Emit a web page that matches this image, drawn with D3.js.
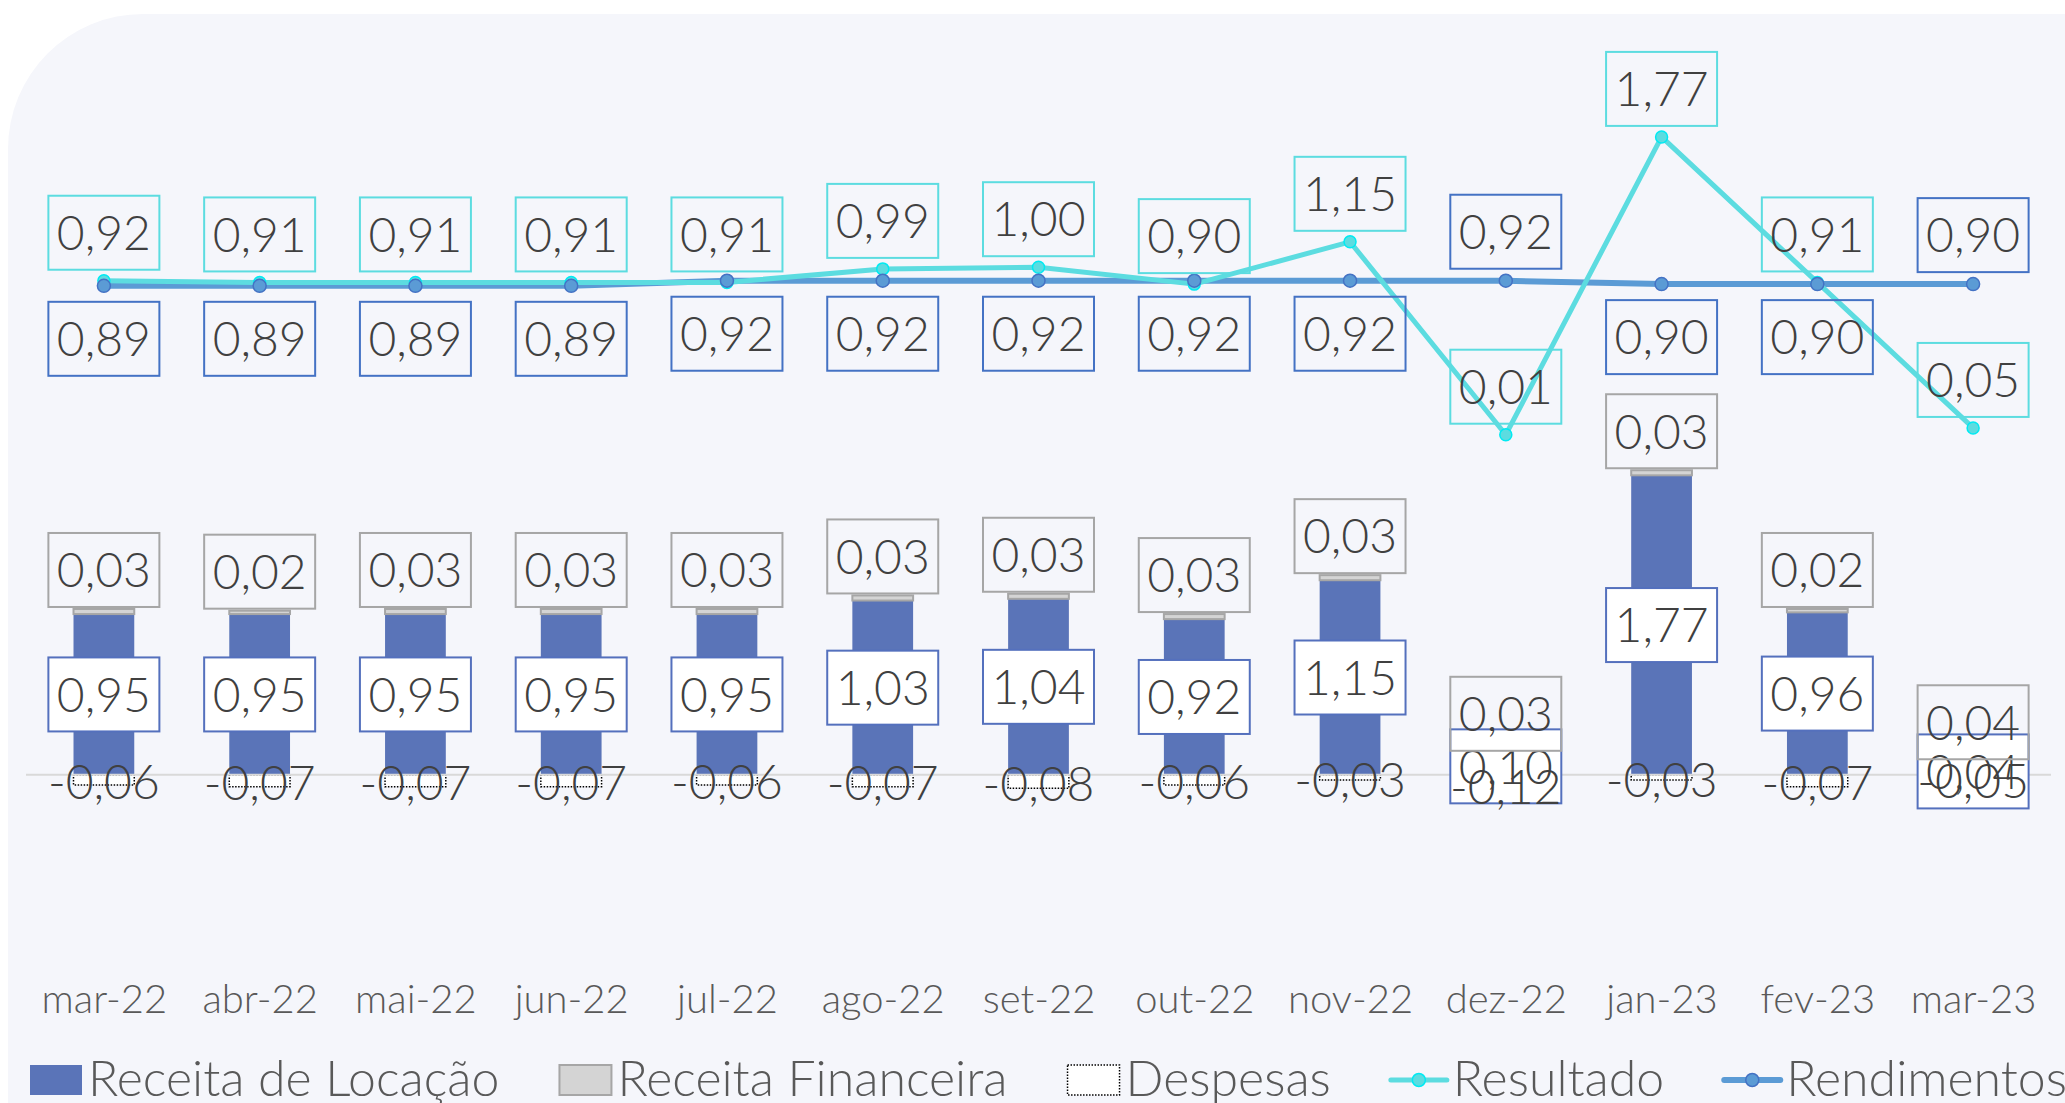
<!DOCTYPE html>
<html>
<head>
<meta charset="utf-8">
<script src="https://cdn.jsdelivr.net/npm/d3@7"></script>
<style>
  body { margin: 0; background: #fff; }
  svg { display: block; font-family: Lato, "Open Sans", sans-serif; font-weight: 300; }
</style>
</head>
<body>
<div id="chart"></div>
<script>
// Monthly values.
var months = ["mar-22", "abr-22", "mai-22", "jun-22", "jul-22", "ago-22", "set-22",
              "out-22", "nov-22", "dez-22", "jan-23", "fev-23", "mar-23"];

var receitaLocacao    = [0.95, 0.95, 0.95, 0.95, 0.95, 1.03, 1.04, 0.92, 1.15, 0.10, 1.77, 0.96, 0.04];
var receitaFinanceira = [0.03, 0.02, 0.03, 0.03, 0.03, 0.03, 0.03, 0.03, 0.03, 0.03, 0.03, 0.02, 0.04];
var despesas          = [-0.06, -0.07, -0.07, -0.07, -0.06, -0.07, -0.08, -0.06, -0.03, -0.12, -0.03, -0.07, -0.05];
var resultado         = [0.92, 0.91, 0.91, 0.91, 0.91, 0.99, 1.00, 0.90, 1.15, 0.01, 1.77, 0.91, 0.05];
var rendimentos       = [0.89, 0.89, 0.89, 0.89, 0.92, 0.92, 0.92, 0.92, 0.92, 0.92, 0.90, 0.90, 0.90];

// Months where the Rendimentos label sits above its point.
var rendLabelAbove = ["dez-22", "mar-23"];

var legendNames = ["Receita de Locação", "Receita Financeira", "Despesas", "Resultado", "Rendimentos"];

var width = 2065;
var height = 1103;

var colors = {
  bg: "#f5f6fb",
  locacao: "#5a74b8",
  financeira: "#d4d4d4",
  financeiraStroke: "#a6a6a6",
  resultado: "#5cdce0",
  resultadoMarker: "#00eaf2",
  rendimentos: "#5b9bd5",
  rendimentosMarker: "#4472c4",
  text: "#404040",
  axisText: "#595959"
};

var locale = d3.formatLocale({ decimal: ",", thousands: ".", grouping: [3], currency: ["R$", ""], minus: "-" });
var fmt = locale.format(".2f");

var svg = d3.select("#chart")
  .append("svg")
    .attr("width", width)
    .attr("height", height);

// Card background, only its top-left corner shows.
svg.append("rect")
  .attr("x", 8)
  .attr("y", 14)
  .attr("width", 2300)
  .attr("height", 1300)
  .attr("rx", 135)
  .style("fill", colors.bg);

var x = d3.scalePoint()
  .domain(months)
  .range([26, 2051])
  .padding(0.5);

var barWidth = x.step() * 0.39;

// Bars on the primary axis, lines on the secondary one.
var y = d3.scaleLinear().domain([-1, 4]).range([944, 98]);
var y2 = d3.scaleLinear().domain([-3, 2]).range([944, 98]);

var rows = months.map(function (m, i) {
  return {
    month: m,
    locacao: receitaLocacao[i],
    financeira: receitaFinanceira[i],
    despesas: despesas[i],
    resultado: resultado[i],
    rendimentos: rendimentos[i]
  };
});

// Bars
var bars = svg.append("g").attr("class", "bars");

bars.selectAll("rect.locacao")
  .data(rows)
  .enter().append("rect")
    .attr("class", "locacao")
    .attr("x", function (d) { return x(d.month) - barWidth / 2; })
    .attr("y", function (d) { return y(d.locacao); })
    .attr("width", barWidth)
    .attr("height", function (d) { return y(0) - y(d.locacao); })
    .style("fill", colors.locacao);

bars.selectAll("rect.financeira")
  .data(rows)
  .enter().append("rect")
    .attr("class", "financeira")
    .attr("x", function (d) { return x(d.month) - barWidth / 2; })
    .attr("y", function (d) { return y(d.locacao + d.financeira); })
    .attr("width", barWidth)
    .attr("height", function (d) { return y(d.locacao) - y(d.locacao + d.financeira); })
    .style("fill", colors.financeira)
    .style("stroke", colors.financeiraStroke)
    .style("stroke-width", 2);

bars.selectAll("rect.despesas")
  .data(rows)
  .enter().append("rect")
    .attr("class", "despesas")
    .attr("x", function (d) { return x(d.month) - barWidth / 2; })
    .attr("y", y(0))
    .attr("width", barWidth)
    .attr("height", function (d) { return y(d.despesas) - y(0); })
    .style("fill", "#fff")
    .style("stroke", "#000")
    .style("stroke-width", 1.5)
    .style("stroke-dasharray", "1.5,1.5");

// Category axis line at zero
svg.append("line")
  .attr("x1", x.range()[0])
  .attr("x2", x.range()[1])
  .attr("y1", y(0))
  .attr("y2", y(0))
  .style("stroke", "#d9d9d9")
  .style("stroke-width", 2);

var xAxis = svg.append("g")
  .attr("transform", "translate(0, 1013)")
  .call(d3.axisBottom(x).tickSize(0).tickPadding(0));
xAxis.select(".domain").remove();
xAxis.selectAll("text")
  .attr("dy", 0)
  .style("font-family", "Lato, sans-serif")
  .style("font-weight", 300)
  .style("font-size", "40px")
  .style("fill", colors.axisText);

// Lines
var lineRes = d3.line()
  .x(function (d) { return x(d.month); })
  .y(function (d) { return y2(d.resultado); });

var lineRend = d3.line()
  .x(function (d) { return x(d.month); })
  .y(function (d) { return y2(d.rendimentos); });

svg.append("path")
  .datum(rows)
  .attr("d", lineRend)
  .style("fill", "none")
  .style("stroke", colors.rendimentos)
  .style("stroke-width", 6)
  .style("stroke-linejoin", "round");

svg.append("path")
  .datum(rows)
  .attr("d", lineRes)
  .style("fill", "none")
  .style("stroke", colors.resultado)
  .style("stroke-width", 5)
  .style("stroke-linejoin", "round");

svg.selectAll("circle.res")
  .data(rows)
  .enter().append("circle")
    .attr("class", "res")
    .attr("cx", function (d) { return x(d.month); })
    .attr("cy", function (d) { return y2(d.resultado); })
    .attr("r", 6)
    .style("fill", colors.resultado)
    .style("stroke", colors.resultadoMarker)
    .style("stroke-width", 1.5);

svg.selectAll("circle.rend")
  .data(rows)
  .enter().append("circle")
    .attr("class", "rend")
    .attr("cx", function (d) { return x(d.month); })
    .attr("cy", function (d) { return y2(d.rendimentos); })
    .attr("r", 6.5)
    .style("fill", colors.rendimentos)
    .style("stroke", colors.rendimentosMarker)
    .style("stroke-width", 1.5);

// Data labels
var boxW = 111;
var boxH = 74;
var labelSize = "48px";

function addLabels(cls, data, value, centerY, boxFill, boxStroke) {
  var g = svg.append("g").attr("class", cls);
  var lab = g.selectAll("g")
    .data(data)
    .enter().append("g")
      .attr("transform", function (d) { return "translate(" + x(d.month) + "," + centerY(d) + ")"; });

  if (boxStroke) {
    lab.append("rect")
      .attr("x", -boxW / 2)
      .attr("y", -boxH / 2)
      .attr("width", boxW)
      .attr("height", boxH)
      .style("fill", boxFill)
      .style("stroke", boxStroke)
      .style("stroke-width", 2);
  }

  lab.append("text")
    .attr("text-anchor", "middle")
    .attr("dy", "0.36em")
    .style("font-size", labelSize)
    .style("fill", colors.text)
    .text(function (d) { return fmt(value(d)); });
}

addLabels("lab-locacao", rows,
  function (d) { return d.locacao; },
  function (d) { return y(d.locacao / 2); },
  "#fff", "#5470bd");

addLabels("lab-financeira", rows,
  function (d) { return d.financeira; },
  function (d) { return y(d.locacao + d.financeira) - 2 - boxH / 2; },
  "none", colors.financeiraStroke);

addLabels("lab-despesas", rows,
  function (d) { return d.despesas; },
  function (d) { return y(d.despesas / 2) + 2; },
  "none", null);

addLabels("lab-resultado", rows,
  function (d) { return d.resultado; },
  function (d) { return y2(d.resultado) - 11 - boxH / 2; },
  "none", colors.resultado);

addLabels("lab-rendimentos", rows,
  function (d) { return d.rendimentos; },
  function (d) {
    if (rendLabelAbove.indexOf(d.month) >= 0) {
      return y2(d.rendimentos) - 12 - boxH / 2;
    }
    return y2(d.rendimentos) + 16 + boxH / 2;
  },
  "none", colors.rendimentosMarker);

// Legend
var legend = svg.append("g").attr("class", "legend");
var legendX = 30;
var legendMid = 1080;

legendNames.forEach(function (name, i) {
  var item = legend.append("g").attr("transform", "translate(" + legendX + ",0)");
  var keyW;

  if (i < 3) {
    keyW = 52;
    var key = item.append("rect")
      .attr("x", 0)
      .attr("y", legendMid - 15)
      .attr("width", keyW)
      .attr("height", 30);
    if (i == 0) key.style("fill", colors.locacao);
    if (i == 1) key.style("fill", colors.financeira).style("stroke", colors.financeiraStroke).style("stroke-width", 2);
    if (i == 2) key.style("fill", "#fff").style("stroke", "#000").style("stroke-width", 1.5).style("stroke-dasharray", "1.5,1.5");
  } else {
    keyW = 56;
    var c = (i == 3) ? colors.resultado : colors.rendimentos;
    var mc = (i == 3) ? colors.resultadoMarker : colors.rendimentosMarker;
    item.append("line")
      .attr("x1", 0).attr("x2", keyW)
      .attr("y1", legendMid).attr("y2", legendMid)
      .style("stroke", c)
      .style("stroke-width", i == 3 ? 5 : 6)
      .style("stroke-linecap", "round");
    item.append("circle")
      .attr("cx", keyW / 2)
      .attr("cy", legendMid)
      .attr("r", 6.5)
      .style("fill", c)
      .style("stroke", mc)
      .style("stroke-width", 1.5);
  }

  var t = item.append("text")
    .attr("x", keyW + 6)
    .attr("y", legendMid + 16)
    .style("font-size", "50px")
    .style("fill", colors.axisText)
    .text(name);

  legendX += keyW + 6 + t.node().getComputedTextLength() + 60;
});
</script>
</body>
</html>
